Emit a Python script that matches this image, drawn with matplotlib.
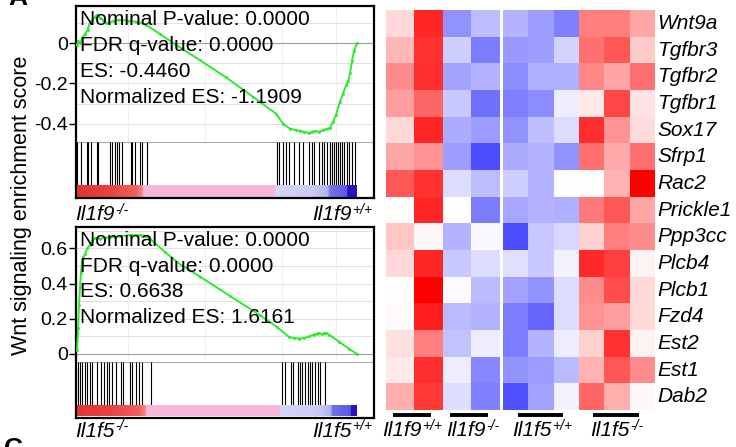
import numpy as np
import matplotlib
matplotlib.use('Agg')
import matplotlib.pyplot as plt
from matplotlib.colors import LinearSegmentedColormap, to_rgb

plt.rcParams['font.family'] = ['Liberation Sans', 'DejaVu Sans']

# ---------------- data ----------------
# GSEA running enrichment score (x = position in ranked list, % of list)
es1_rank = [0, 0.5, 1.1, 2.0, 2.9, 3.8, 4.6, 5.5, 6.4, 7.3, 8.2, 9.3, 10.4, 11.4, 13.2,
            15.0, 18.2, 21.1, 24.6, 29.6, 35.4, 43.9, 53.2, 62.9, 71.1, 73.6, 76.1, 78.2,
            79.6, 81.1, 82.9, 83.9, 85.0, 86.4, 87.9, 89.3, 90.4, 91.4, 92.5, 93.9, 95.0,
            96.1, 96.8, 97.5, 98.2, 98.9, 100.0]
es1_score = [-0.01, 0.01, 0.0, 0.03, 0.045, 0.065, 0.10, 0.115, 0.13, 0.14, 0.125, 0.115,
             0.10, 0.10, 0.11, 0.115, 0.11, 0.105, 0.09, 0.045, -0.01, -0.085, -0.17,
             -0.267, -0.35, -0.40, -0.425, -0.43, -0.435, -0.44, -0.446, -0.44, -0.435,
             -0.44, -0.43, -0.425, -0.42, -0.39, -0.356, -0.29, -0.25, -0.21, -0.19,
             -0.15, -0.09, -0.04, 0.0]
es1_hits = [0.1, 1.3, 3.5, 3.9, 4.9, 7.0, 7.5, 11.8, 12.6, 13.5, 14.2, 15.0, 16.2, 19.2,
            19.7, 20.6, 22.5, 23.2, 25.1,
            71.3, 72.3, 73.5, 74.6, 75.8, 77.5, 79.4, 80.6, 83.0, 83.8, 84.6, 86.5, 87.4,
            88.2, 89.2, 90.4, 91.1, 91.8, 92.5, 93.2, 93.9, 94.6, 95.4, 96.3, 97.2, 98.1, 99.3]
es1_stats = ["Nominal P-value: 0.0000", "FDR q-value: 0.0000", "ES: -0.4460",
             "Normalized ES: -1.1909"]

es2_rank = [0, 0.4, 0.7, 1.1, 1.4, 1.8, 2.3, 2.9, 3.7, 4.6, 5.5, 6.4, 8.2, 10.0, 11.8,
            13.6, 15.4, 18.9, 22.5, 24.3, 26.1, 31.4, 37.1, 43.9, 54.6, 65.4, 71.4, 75.7,
            77.5, 79.3, 81.1, 82.9, 84.6, 85.7, 86.4, 87.5, 88.2, 88.9, 90.0, 93.6, 97.1, 100.0]
es2_score = [0.02, 0.15, 0.28, 0.38, 0.46, 0.52, 0.55, 0.57, 0.60, 0.62, 0.64, 0.66, 0.655,
             0.66, 0.665, 0.665, 0.67, 0.676, 0.675, 0.672, 0.655, 0.58, 0.506, 0.44, 0.33,
             0.22, 0.153, 0.097, 0.09, 0.088, 0.09, 0.10, 0.11, 0.115, 0.12, 0.112, 0.118,
             0.12, 0.11, 0.07, 0.03, 0.0]
es2_hits = [0.2, 1.1, 1.8, 2.7, 3.7, 4.6, 5.5, 7.0, 8.7, 9.6, 10.6,
            11.4, 12.6, 13.8, 15.6, 16.5, 18.9, 19.8, 21.0, 22.1, 23.3, 26.5,
            73.3, 74.3, 76.4, 77.3, 78.8, 79.6, 80.5, 81.4, 82.4, 83.2, 84.0, 85.0, 86.0,
            86.8, 88.6]
es2_stats = ["Nominal P-value: 0.0000", "FDR q-value: 0.0000", "ES: 0.6638",
             "Normalized ES: 1.6161"]

# ranked-list metric colour bar (position %, colour)
cbar1 = [(0, '#e33434'), (12, '#ea4242'), (21, '#f06060'), (23.4, '#f48a8a'),
         (23.6, '#f5b8d9'), (70.8, '#f5b8d9'), (71.0, '#d6d6f8'), (84, '#cbcbf6'),
         (89.5, '#b4b4f0'), (90.5, '#7474e6'), (96.5, '#5a5ae0'), (96.7, '#2a10c0'),
         (100, '#2a10c0')]
cbar2 = [(0, '#e33434'), (12, '#ea4242'), (22, '#f06060'), (24.5, '#f48a8a'),
         (24.7, '#f5b8d9'), (72.3, '#f5b8d9'), (72.5, '#d6d6f8'), (86, '#cbcbf6'),
         (90.5, '#b4b4f0'), (91.4, '#7070e6'), (97.8, '#5a5ae0'), (98.0, '#2a10c0'),
         (100, '#2a10c0')]

# heat map
genes = ["Wnt9a", "Tgfbr3", "Tgfbr2", "Tgfbr1", "Sox17", "Sfrp1", "Rac2", "Prickle1",
         "Ppp3cc", "Plcb4", "Plcb1", "Fzd4", "Est2", "Est1", "Dab2"]
groups = ["Il1f9+/+", "Il1f9-/-", "Il1f5+/+", "Il1f5-/-"]
il1f9_expr = [  # Il1f9+/+ (2), Il1f9-/- (2)
    [0.15, 0.85, -0.50, -0.30],
    [0.28, 0.80, -0.22, -0.60],
    [0.45, 0.82, -0.42, -0.35],
    [0.38, 0.60, -0.25, -0.65],
    [0.15, 0.85, -0.38, -0.45],
    [0.35, 0.42, -0.45, -0.82],
    [0.65, 0.80, -0.15, -0.30],
    [0.01, 0.85, 0.00, -0.60],
    [0.22, 0.03, -0.35, -0.03],
    [0.15, 0.85, -0.25, -0.15],
    [0.01, 1.00, -0.02, -0.32],
    [0.02, 0.88, -0.32, -0.35],
    [0.12, 0.50, -0.28, -0.08],
    [0.08, 0.82, -0.08, -0.55],
    [0.32, 0.78, -0.15, -0.58],
]
il1f5_expr = [  # Il1f5+/+ (3), Il1f5-/- (3)
    [-0.35, -0.45, -0.58, 0.50, 0.50, 0.35],
    [-0.47, -0.45, -0.20, 0.56, 0.66, 0.20],
    [-0.53, -0.36, -0.36, 0.47, 0.35, 0.56],
    [-0.58, -0.53, -0.08, 0.09, 0.72, 0.11],
    [-0.50, -0.30, -0.16, 0.82, 0.42, 0.14],
    [-0.38, -0.35, -0.50, 0.55, 0.33, 0.55],
    [-0.22, -0.35, 0.00, 0.01, 0.30, 1.00],
    [-0.40, -0.35, -0.36, 0.52, 0.66, 0.35],
    [-0.82, -0.25, -0.18, 0.18, 0.50, 0.45],
    [-0.14, -0.25, -0.06, 0.83, 0.75, 0.05],
    [-0.42, -0.50, -0.16, 0.45, 0.70, 0.15],
    [-0.60, -0.70, -0.16, 0.42, 0.38, 0.15],
    [-0.60, -0.35, -0.08, 0.18, 0.80, 0.05],
    [-0.50, -0.45, -0.32, 0.30, 0.66, 0.45],
    [-0.80, -0.42, -0.05, 0.60, 0.32, 0.03],
]

# ---------------- layout helpers ----------------
W, H = 736, 447
fig = plt.figure(figsize=(W / 100, H / 100), dpi=100)
renderer = fig.canvas.get_renderer()


def rect_px(x0, y0, x1, y1):
    return [x0 / W, 1 - y1 / H, (x1 - x0) / W, (y1 - y0) / H]


def cbar_image(stops, n=600):
    pos = np.array([s[0] for s in stops])
    cols = np.array([to_rgb(s[1]) for s in stops])
    xs = np.linspace(0, 100, n)
    img = np.stack([np.interp(xs, pos, cols[:, k]) for k in range(3)], axis=-1)
    return img[None, :, :]


def gsea_panel(box, zero_px, ppu, sep_px, cb_top_px, cb_bot_px, rank, score, hits,
               stops, yticks, yticklabels, stats):
    x0, y0, x1, y1 = box
    ax = fig.add_axes(rect_px(x0, y0, x1, y1))
    val = lambda py: (zero_px - py) / ppu
    ymin, ymax = val(y1), val(y0)
    px_per = 2.8  # data 0..100 spans px 77..357
    xmin = (x0 - 77) / px_per
    xmax = (x1 - 77) / px_per
    sep = val(sep_px)
    g = np.arange(np.ceil((sep + 0.001) * 10) / 10, ymax, 0.1)
    for gy in g:
        ax.axhline(gy, color='#dcdcdc', lw=0.6, zorder=0)
    ax.axhline(0, color='#a0a0a0', lw=0.8, zorder=0.5)
    for gx in [18.2, 45.7, 73.2, 92.5]:
        ax.plot([gx, gx], [sep, ymax], color='#ececec', lw=0.6, zorder=0)
    ax.axhline(sep, color='#b0b0b0', lw=0.8, zorder=0.5)
    ax.plot(rank, score, color='#30ea30', lw=1.4, marker='.', ms=2.2, zorder=3)
    ax.vlines(hits, val(cb_top_px), sep, color='black', lw=0.8, zorder=2)
    ax.imshow(cbar_image(stops), extent=[0, 100, val(cb_bot_px), val(cb_top_px)],
              aspect='auto', interpolation='bilinear', zorder=2)
    ax.set_xlim(xmin, xmax)
    ax.set_ylim(ymin, ymax)
    ax.set_xticks([])
    ax.set_yticks(yticks)
    ax.set_yticklabels(yticklabels, fontsize=14)
    ax.tick_params(axis='y', length=5, width=1.0, pad=0.5, direction='out')
    for s in ax.spines.values():
        s.set_linewidth(1.6)
    for i, s in enumerate(stats):
        ax.text(0.015, 1 - 0.072 - i * 0.134, s, transform=ax.transAxes, fontsize=15,
                ha='left', va='center', zorder=4)
    return ax


gsea_panel((75.5, 6, 374, 198), 43, 202, 142, 185.5, 196.5, es1_rank, es1_score,
           es1_hits, cbar1, [0, -0.2, -0.4], ['0', '-0.2', '-0.4'], es1_stats)
gsea_panel((75.5, 227, 374, 418), 354, 176, 362, 405, 416, es2_rank, es2_score,
           es2_hits, cbar2, [0, 0.2, 0.4, 0.6], ['0', '0.2', '0.4', '0.6'], es2_stats)

# heat maps
cmap = LinearSegmentedColormap.from_list('bwr_custom', ['#2626ff', '#ffffff', '#ff0000'])
axl = fig.add_axes(rect_px(386, 10, 499.3, 410))
axl.imshow(np.array(il1f9_expr), cmap=cmap, vmin=-1, vmax=1, aspect='auto',
           interpolation='nearest')
axl.axis('off')
axr = fig.add_axes(rect_px(503.3, 10, 655, 410))
axr.imshow(np.array(il1f5_expr), cmap=cmap, vmin=-1, vmax=1, aspect='auto',
           interpolation='nearest')
axr.axis('off')

# overlay for free text in pixel coordinates
ov = fig.add_axes([0, 0, 1, 1])
ov.set_xlim(0, W)
ov.set_ylim(H, 0)
ov.axis('off')

row_h = 400 / len(genes)
for i, gname in enumerate(genes):
    ov.text(657, 10 + row_h * (i + 0.5), gname, fontsize=15, style='italic',
            ha='left', va='center')


def geno(x, y, name, ha='left', fs=15, sfs=10, rise=6.5):
    base, sup = name[:-3], name[-3:]
    t1 = ov.text(0, 0, base, fontsize=fs, style='italic', va='baseline')
    t2 = ov.text(0, 0, sup, fontsize=sfs, style='italic', va='baseline')
    w1 = t1.get_window_extent(renderer).width
    w2 = t2.get_window_extent(renderer).width
    total = w1 + 0.5 + w2
    if ha == 'center':
        start = x - total / 2
    elif ha == 'right':
        start = x - total
    else:
        start = x
    t1.set_position((start, y))
    t2.set_position((start + w1 + 0.5, y - rise))


bars = [(393, 431), (450, 488), (518, 563), (593, 639)]
label_x = [412, 473, 542, 617]
for (b0, b1), lx, gname in zip(bars, label_x, groups):
    ov.plot([b0, b1], [414.5, 414.5], color='black', lw=2.8, solid_capstyle='butt')
    geno(lx, 436, gname, ha='center')

geno(75, 220, "Il1f9-/-", ha='left')
geno(372, 220, "Il1f9+/+", ha='right')
geno(75, 437, "Il1f5-/-", ha='left')
geno(372, 437, "Il1f5+/+", ha='right')

ov.text(22, 205, "Wnt signaling enrichment score", fontsize=15.5, rotation=90,
        ha='center', va='center')
ov.text(8, 5, "A", fontsize=19, fontweight='bold', ha='left', va='baseline')
ov.text(4, 437, "C", fontsize=19, fontweight='bold', ha='left', va='top')

fig.savefig('out.png', dpi=100)
